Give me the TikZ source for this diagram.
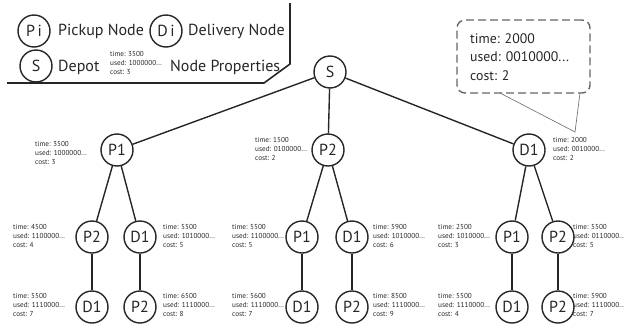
\documentclass[tikz,border=0pt]{standalone}
\usepackage{fontspec}
\setmainfont{PT Sans}
\definecolor{ink}{HTML}{262626}
\definecolor{dashgray}{HTML}{666666}
\begin{document}
\begin{tikzpicture}[x=1pt,y=-1pt,
  state/.style={circle, draw=ink, line width=1.4pt, minimum size=32pt, inner sep=0pt,
                fill=white, text=ink, font=\fontsize{16}{16}\selectfont},
  prop/.style={align=left, inner sep=0pt, text=ink, font=\fontsize{7.2}{8.6}\selectfont},
  legtext/.style={inner sep=0pt, text=ink, font=\fontsize{16}{16}\selectfont},
  calltext/.style={align=left, inner sep=0pt, text=ink, font=\fontsize{13.8}{18.5}\selectfont},
  edge/.style={draw=ink, line width=1.4pt},
  callout/.style={draw=dashgray, line width=1.4pt, dash pattern=on 8pt off 4pt,
                  rounded corners=8pt, minimum width=133pt, minimum height=73pt, inner sep=0pt},
  tail/.style={draw=dashgray, line width=0.6pt}]
\useasboundingbox (0,0) rectangle (624,327);
\clip (0,0) rectangle (624,327);

% ---------- legend ----------
\node[state] (legP) at (34,31) {P\,i};
\node[legtext, anchor=west] (legPt) at (58,31) {Pickup Node};
\node[state] (legD) at (166,31) {D\,i};
\node[legtext, anchor=west] (legDt) at (188,31) {Delivery Node};
\node[state] (legS) at (36,66) {S};
\node[legtext, anchor=west] (legSt) at (58,67) {Depot};
\node[prop, anchor=west] (legProp) at (110,63) {time: 3500\\used: 1000000...\\cost: 3};
\node[legtext, anchor=west] (legPropT) at (170,67) {Node Properties};
\draw[ink, line width=1.6pt] (7,83) -- (264,83) -- (290,64) -- (290,3);

% ---------- search tree ----------
\node[state] (S) at (330,72) {S};

\node[state] (P1) at (117,150) {P1};
\node[state] (P2) at (328,150) {P2};
\node[state] (D1) at (529,150) {D1};

\node[state] (aP2) at (92,237) {P2};
\node[state] (aD1) at (140,237) {D1};
\node[state] (bP1) at (302,237) {P1};
\node[state] (bD1) at (352,237) {D1};
\node[state] (cP1) at (512,237) {P1};
\node[state] (cP2) at (558,237) {P2};

\node[state] (aaD1) at (92,307) {D1};
\node[state] (abP2) at (140,307) {P2};
\node[state] (baD1) at (302,307) {D1};
\node[state] (bbP2) at (352,307) {P2};
\node[state] (caD1) at (512,307) {D1};
\node[state] (cbP2) at (558,307) {P2};

\foreach \a/\b in {S/P1, S/P2, S/D1, P1/aP2, P1/aD1, P2/bP1, P2/bD1, D1/cP1, D1/cP2,
                   aP2/aaD1, aD1/abP2, bP1/baD1, bD1/bbP2, cP1/caD1, cP2/cbP2}
  \draw[edge] (\a) -- (\b);

% ---------- node properties ----------
\node[prop, anchor=west] (tP1) at (35,153) {time: 3500\\used: 1000000...\\cost: 3};
\node[prop, anchor=west] (tP2) at (255,149) {time: 1500\\used: 0100000...\\cost: 2};
\node[prop, anchor=west] (tD1) at (553,149) {time: 2000\\used: 0010000...\\cost: 2};

\node[prop, anchor=west] (taP2) at (13,236) {time: 4500\\used: 1100000...\\cost: 4};
\node[prop, anchor=west] (taD1) at (163,236) {time: 5500\\used: 1010000...\\cost: 5};
\node[prop, anchor=west] (tbP1) at (232,236) {time: 5500\\used: 1100000...\\cost: 5};
\node[prop, anchor=west] (tbD1) at (373,236) {time: 5900\\used: 1010000...\\cost: 6};
\node[prop, anchor=west] (tcP1) at (438,236) {time: 2500\\used: 1010000...\\cost: 3};
\node[prop, anchor=west] (tcP2) at (573,236) {time: 5500\\used: 0110000...\\cost: 5};

\node[prop, anchor=west] (taaD1) at (13,305) {time: 5500\\used: 1110000...\\cost: 7};
\node[prop, anchor=west] (tabP2) at (163,305) {time: 6500\\used: 1110000...\\cost: 8};
\node[prop, anchor=west] (tbaD1) at (232,305) {time: 5600\\used: 1110000...\\cost: 7};
\node[prop, anchor=west] (tbbP2) at (373,305) {time: 8500\\used: 1110000...\\cost: 9};
\node[prop, anchor=west] (tcaD1) at (438,305) {time: 5500\\used: 1110000...\\cost: 4};
\node[prop, anchor=west] (tcbP2) at (573,305) {time: 5900\\used: 1110000...\\cost: 7};

% ---------- enlarged properties callout ----------
\node[callout] (call) at (523.5,56.5) {};
\node[calltext, anchor=west] (callTxt) at (470,57) {time: 2000\\used: 0010000...\\cost: 2};
\coordinate (tailA) at (500,93);
\coordinate (tailB) at (580,93);
\coordinate (tailTip) at (575,132);
\draw[tail] (tailA) -- (tailTip) -- (tailB);
\end{tikzpicture}
\end{document}
